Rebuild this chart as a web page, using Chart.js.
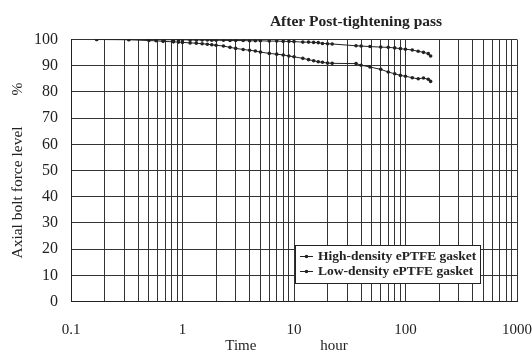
<!DOCTYPE html>
<html>
<head>
<meta charset="utf-8">
<script src="https://cdn.jsdelivr.net/npm/chart.js@4/dist/chart.umd.min.js"></script>
<style>
  body { margin: 0; background: #fff; }
  canvas { display: block; }
</style>
</head>
<body>
<canvas id="chart" width="532" height="355"></canvas>
<script>
// elapsed time after post-tightening (hours)
const hours = [0.17, 0.33, 0.5, 0.58, 0.67, 0.83, 0.92, 1, 1.17, 1.33,
  1.5, 1.67, 1.83, 2, 2.33, 2.67, 3, 3.5, 4, 4.5,
  5, 6, 7, 8, 9, 10, 12, 13.5, 15, 16.5,
  18, 20, 22, 36, 40, 48, 60, 70, 80, 90,
  100, 115, 130, 145, 160, 168];

// axial bolt force level (%)
const highDensity = [100, 100, 100, 99.9, 99.9, 99.9, 99.9, 99.9, 99.8, 99.8,
  99.8, 99.8, 99.7, 99.7, 99.7, 99.6, 99.6, 99.6, 99.5, 99.5,
  99.5, 99.4, 99.4, 99.3, 99.3, 99.2, 99.0, 99.0, 98.9, 98.8,
  98.5, 98.4, 98.3, 97.6, 97.5, 97.3, 97.1, 97.0, 96.8, 96.5,
  96.3, 96.0, 95.5, 95.1, 94.6, 93.7];

const lowDensity = [100, 99.9, 99.6, 99.5, 99.3, 99.1, 99.0, 98.9, 98.7, 98.6,
  98.4, 98.2, 98.0, 97.8, 97.5, 97.0, 96.6, 96.2, 95.9, 95.6,
  95.2, 94.7, 94.4, 94.1, 93.7, 93.4, 92.8, 92.3, 91.9, 91.5,
  91.3, 91.0, 90.9, 90.8, 90.2, 89.5, 88.6, 87.6, 86.9, 86.3,
  86.0, 85.4, 85.0, 85.3, 84.8, 84.0];

const seriesLabels = ['High-density ePTFE gasket', 'Low-density ePTFE gasket'];
const xMajors = [0.1, 1, 10, 100, 1000];
const xTickLabels = ['0.1', '1', '10', '100', '1000'];

const serif = '"Liberation Serif", "DejaVu Serif", serif';
const ink = '#222';

// log paper grid: 1..9 in every decade
const xGrid = [];
xMajors.slice(0, -1).forEach((d) => {
  for (let k = 1; k <= 9; k++) xGrid.push(k * d);
});
xGrid.push(xMajors[xMajors.length - 1]);

const toPoints = (vals) => hours.map((h, i) => ({ x: h, y: vals[i] }));

const titlePlugin = {
  id: 'topTitle',
  afterDraw(chart) {
    const ctx = chart.ctx;
    ctx.save();
    ctx.font = 'bold 15.5px ' + serif;
    ctx.fillStyle = ink;
    ctx.textAlign = 'center';
    ctx.textBaseline = 'middle';
    ctx.fillText('After Post-tightening pass', 356, 22);
    ctx.restore();
  },
};

// boxed legend inside the plot, bottom right
const boxLegend = {
  id: 'boxLegend',
  afterDatasetsDraw(chart) {
    const ctx = chart.ctx;
    const area = chart.chartArea;
    const right = area.right - 37;
    const bottom = area.bottom - 18.5;
    const rowH = 15;
    const height = rowH * chart.data.datasets.length + 8;
    const width = 185;
    const left = right - width;
    const top = bottom - height;
    ctx.save();
    ctx.fillStyle = '#fff';
    ctx.fillRect(left, top, width, height);
    ctx.strokeStyle = ink;
    ctx.lineWidth = 1;
    ctx.strokeRect(Math.round(left) + 0.5, Math.round(top) + 0.5, width, height);
    ctx.font = 'bold 13.5px ' + serif;
    ctx.textBaseline = 'middle';
    chart.data.datasets.forEach((ds, i) => {
      const y = top + 4 + rowH * i + rowH / 2;
      ctx.strokeStyle = ink;
      ctx.beginPath();
      ctx.moveTo(left + 5, y);
      ctx.lineTo(left + 18, y);
      ctx.stroke();
      ctx.fillStyle = ink;
      ctx.beginPath();
      ctx.arc(left + 11.5, y, 1.8, 0, Math.PI * 2);
      ctx.fill();
      ctx.fillText(ds.label, left + 23, y + 0.5);
    });
    ctx.restore();
  },
};

new Chart(document.getElementById('chart'), {
  type: 'line',
  data: {
    datasets: [
      {
        label: seriesLabels[0],
        data: toPoints(highDensity),
      },
      {
        label: seriesLabels[1],
        data: toPoints(lowDensity),
      },
    ].map((d) => ({
      ...d,
      borderColor: ink,
      backgroundColor: ink,
      borderWidth: 1,
      pointRadius: 1.8,
      pointBorderWidth: 0,
      fill: false,
      tension: 0,
    })),
  },
  options: {
    responsive: false,
    animation: false,
    layout: { padding: { top: 39.5, right: 15, left: 0, bottom: 0 } },
    plugins: {
      legend: { display: false },
      tooltip: { enabled: false },
    },
    scales: {
      x: {
        type: 'logarithmic',
        min: 0.1,
        max: 1000,
        afterBuildTicks: (scale) => {
          scale.ticks = xGrid.map((v) => ({ value: v }));
        },
        afterFit: (scale) => {
          scale.height = 53.5;
          scale.paddingLeft = 0;
          scale.paddingRight = 0;
        },
        grid: { color: '#333', lineWidth: 1, drawTicks: false },
        border: { color: ink, width: 1 },
        ticks: {
          autoSkip: false,
          maxRotation: 0,
          padding: 20,
          color: ink,
          font: { family: serif, size: 15 },
          callback: (value) => {
            const idx = xMajors.findIndex((m) => Math.abs(m - value) < m * 1e-6);
            return idx >= 0 ? xTickLabels[idx] : '';
          },
        },
        title: {
          display: true,
          text: 'Time                 hour    ',
          color: ink,
          font: { family: serif, size: 15 },
          padding: { top: 0, bottom: 0 },
        },
      },
      y: {
        min: 0,
        max: 100,
        afterFit: (scale) => { scale.width = 71; },
        grid: { color: '#333', lineWidth: 1, drawTicks: false },
        border: { color: ink, width: 1 },
        ticks: {
          stepSize: 10,
          padding: 13,
          color: ink,
          font: { family: serif, size: 16 },
        },
        title: {
          display: true,
          text: 'Axial bolt force level        %',
          color: ink,
          font: { family: serif, size: 15.5 },
          padding: { top: 9, bottom: 0 },
        },
      },
    },
  },
  plugins: [titlePlugin, boxLegend],
});
</script>
</body>
</html>
